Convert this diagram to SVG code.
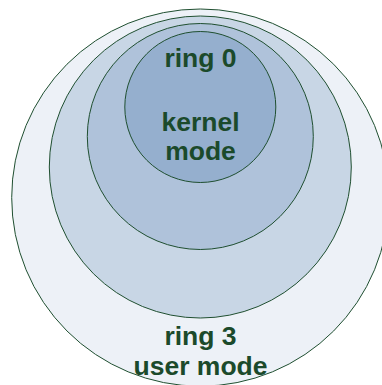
<svg xmlns="http://www.w3.org/2000/svg" width="382" height="385" viewBox="0 0 382 385">
<style>
.ring{stroke:#1f4f30;stroke-width:1}
.t{font-family:"Liberation Sans",Arial,sans-serif;font-weight:bold;font-size:26.5px;fill:#1b4a2b;text-anchor:middle}
</style>
<rect width="382" height="385" fill="#ffffff"/>
<g id="ring3">
<circle class="ring" cx="200.3" cy="197.6" r="188.6" fill="#edf1f7"/>
</g>
<g id="ring2">
<circle class="ring" cx="200.3" cy="167" r="151" fill="#c8d6e5"/>
</g>
<g id="ring1">
<circle class="ring" cx="200.3" cy="136.5" r="113" fill="#afc2da"/>
</g>
<g id="ring0">
<circle class="ring" cx="200.3" cy="107" r="75.5" fill="#95afce"/>
</g>
<g id="labels">
<text class="t" x="200.5" y="66.5">ring 0</text>
<text class="t" x="200.5" y="130.7">kernel</text>
<text class="t" x="200.5" y="159.5">mode</text>
<text class="t" x="200.5" y="345">ring 3</text>
<text class="t" x="200.5" y="375">user mode</text>
</g>
</svg>
